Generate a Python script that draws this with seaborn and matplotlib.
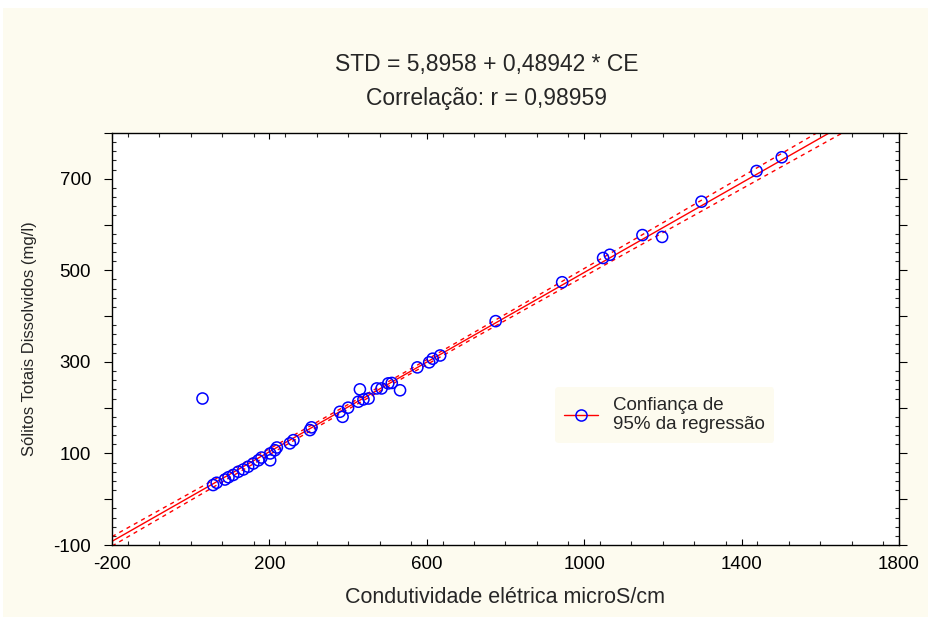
import numpy as np
import pandas as pd
import matplotlib
matplotlib.use("Agg")
import matplotlib.pyplot as plt
from matplotlib.patches import Rectangle
from matplotlib.lines import Line2D
from matplotlib.ticker import MultipleLocator, FixedLocator
import seaborn as sns

# Data (CE in microS/cm, STD in mg/l)
ce = [57, 66, 87, 96, 108, 121, 134, 146, 159, 172, 180, 202, 202, 214, 219,
      252, 261, 303, 307, 379, 386, 400, 430, 426, 439, 452, 473, 485, 502,
      511, 532, 576, 606, 615, 634, 775, 944, 1048, 1065, 1148, 1198, 1298,
      1438, 1502, 30]
std = [31, 36, 43, 48, 53, 60, 65, 71, 78, 85, 91, 85, 100, 107, 113,
       122, 129, 151, 157, 191, 180, 200, 240, 213, 218, 220, 242, 242, 253,
       254, 238, 288, 299, 307, 314, 389, 474, 527, 534, 577, 573, 650,
       717, 747, 220]

# Regression from the chart title
intercept = 5.8958
slope = 0.48942
# residual standard error, estimated from the width of the dashed band
resid_se = 17.0
t_95 = 2.017

title_1 = "STD = 5,8958 + 0,48942 * CE"
title_2 = "Correlação: r = 0,98959"
x_label = "Condutividade elétrica microS/cm"
y_label = "Sólitos Totais Dissolvidos (mg/l)"
legend_label = "Confiança de\n95% da regressão"

x_major = [-200, 200, 600, 1000, 1400, 1800]
y_labels = [-100, 100, 300, 500, 700]

CREAM = "#FDFBEF"

sns.set_style("white")
plt.rcParams["font.family"] = ["Liberation Sans", "DejaVu Sans"]

df = pd.DataFrame({"CE": ce, "STD": std})

fig = plt.figure(figsize=(9.29, 6.17), dpi=100, facecolor="white")
fig.patches.append(Rectangle((3 / 929, 0), 1, 1 - 8 / 617, transform=fig.transFigure,
                             facecolor=CREAM, edgecolor="none", zorder=-10))
ax = fig.add_axes([112 / 929, 1 - 545 / 617, (899 - 112) / 929, (545 - 133) / 617])
ax.set_facecolor("white")

# fitted line and 95% confidence band for the mean
x = df["CE"].to_numpy(float)
n = len(x)
sxx = np.sum((x - x.mean()) ** 2)
xs = np.linspace(-200, 1800, 200)
fit = intercept + slope * xs
half = t_95 * resid_se * np.sqrt(1 / n + (xs - x.mean()) ** 2 / sxx)

ax.plot(xs, fit, color="red", lw=1.0, zorder=2)
ax.plot(xs, fit + half, color="red", lw=1.0, ls=(0, (3, 3)), zorder=2)
ax.plot(xs, fit - half, color="red", lw=1.0, ls=(0, (3, 3)), zorder=2)

sns.scatterplot(data=df, x="CE", y="STD", ax=ax, marker="o", s=64,
                facecolor="none", edgecolor="blue", linewidth=1.1, zorder=3)

ax.set_xlim(-200, 1800)
ax.set_ylim(-100, 800)

ax.xaxis.set_major_locator(FixedLocator(x_major))
ax.xaxis.set_minor_locator(MultipleLocator(80))
ax.yaxis.set_minor_locator(MultipleLocator(20))
ax.set_yticks(np.arange(-100, 801, 100))
ax.set_yticklabels([str(v) if v in y_labels else "" for v in range(-100, 801, 100)])
ax.set_xticklabels([str(v) for v in x_major])

ax.tick_params(axis="both", which="major", direction="out", length=6, width=0.8,
               labelsize=13.5, colors="black", top=True, right=True, bottom=True, left=True)
ax.tick_params(axis="both", which="minor", direction="in", length=3, width=0.8,
               top=True, right=True, bottom=True, left=True)
ax.tick_params(axis="x", which="major", direction="in", length=4, pad=8)
ax.tick_params(axis="y", which="major", pad=9)
ax.tick_params(labeltop=False, labelright=False)

for sp in ax.spines.values():
    sp.set_color("black")
    sp.set_linewidth(1.0)

ax.set_xlabel(x_label, fontsize=15.5, labelpad=10)
ax.set_ylabel(y_label, fontsize=12, labelpad=12)

fig.text(487 / 929, 1 - 65 / 617, title_1, ha="center", va="center", fontsize=16.5)
fig.text(487 / 929, 1 - 99 / 617, title_2, ha="center", va="center", fontsize=16.5)

handle = Line2D([], [], color="red", lw=1.0, marker="o", markersize=8,
                markerfacecolor="none", markeredgecolor="blue", markeredgewidth=1.1)
leg = ax.legend([handle], [legend_label], loc="upper left", bbox_to_anchor=(0.563, 0.383),
                borderaxespad=0, frameon=True, fontsize=13.5, handlelength=1.8,
                handletextpad=0.8, borderpad=0.5, labelspacing=0.15)
leg.get_frame().set_facecolor(CREAM)
leg.get_frame().set_edgecolor("none")
leg.get_frame().set_alpha(1)

fig.savefig("out.png", dpi=100, facecolor=fig.get_facecolor())
